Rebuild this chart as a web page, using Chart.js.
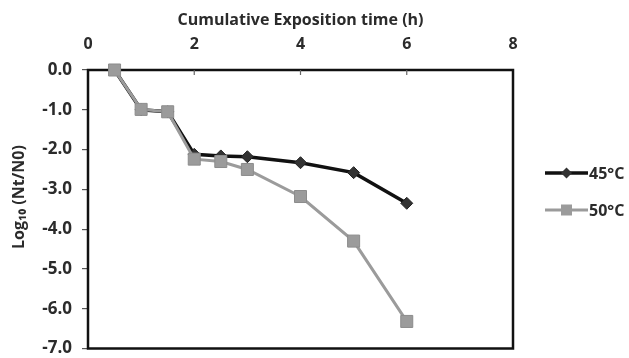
<!DOCTYPE html>
<html>
<head>
<meta charset="utf-8">
<script src="https://cdn.jsdelivr.net/npm/chart.js@4"></script>
<style>
  html, body { margin: 0; padding: 0; background: #fff; }
  #wrap { width: 629px; height: 358px; }
</style>
</head>
<body>
<div id="wrap"><canvas id="killChart" width="629" height="358"></canvas></div>
<script>
// data
const times = [0.5, 1, 1.5, 2, 2.5, 3, 4, 5, 6];
const log45 = [0, -1.0, -1.05, -2.12, -2.16, -2.18, -2.33, -2.58, -3.35];
const log50 = [0, -0.99, -1.05, -2.24, -2.3, -2.5, -3.18, -4.3, -6.32];
const seriesNames = ['45\u00B0C', '50\u00B0C'];
const xTicks = [0, 2, 4, 6, 8];
const yTicks = [0, -1, -2, -3, -4, -5, -6, -7];

const FONT = '"Open Sans", "DejaVu Sans", sans-serif';
const TEXT = '#2b2b2b';

const toPoints = (ys) => times.map((t, i) => ({x: t, y: ys[i]}));

// box around the plot + small inward ticks on the top axis + y title
const frame = {
  id: 'frame',
  beforeDatasetsDraw(chart) {
    const {ctx, chartArea: a, scales} = chart;
    ctx.save();
    ctx.strokeStyle = '#111';
    ctx.lineWidth = 2.5;
    ctx.strokeRect(a.left, a.top, a.right - a.left, a.bottom - a.top);
    ctx.lineWidth = 1.2;
    ctx.strokeStyle = '#666';
    xTicks.slice(1, -1).forEach(v => {
      const px = scales.x.getPixelForValue(v);
      ctx.beginPath();
      ctx.moveTo(px, a.top);
      ctx.lineTo(px, a.top + 5);
      ctx.stroke();
    });
    // y axis title, sits a bit above the middle like in the original
    ctx.translate(19, 197);
    ctx.rotate(-Math.PI / 2);
    ctx.fillStyle = TEXT;
    ctx.font = 'bold 16px ' + FONT;
    ctx.textAlign = 'center';
    ctx.textBaseline = 'middle';
    ctx.fillText('Log\u2081\u2080 (Nt/N0)', 0, 0);
    ctx.restore();
  }
};

// legend: line with the marker in the middle, like the original
const lineLegend = {
  id: 'lineLegend',
  afterDraw(chart) {
    const ctx = chart.ctx;
    const order = [1, 0]; // 45 first, then 50
    ctx.save();
    order.forEach((di, row) => {
      const ds = chart.data.datasets[di];
      const y = 173 + row * 37;
      const x0 = 545, x1 = 588, xm = (x0 + x1) / 2;
      ctx.strokeStyle = ds.borderColor;
      ctx.lineWidth = ds.borderWidth;
      ctx.beginPath();
      ctx.moveTo(x0, y);
      ctx.lineTo(x1, y);
      ctx.stroke();
      ctx.fillStyle = ds.pointBackgroundColor;
      ctx.beginPath();
      if (ds.pointStyle === 'rectRot') {
        const r = 5.5;
        ctx.moveTo(xm, y - r);
        ctx.lineTo(xm + r, y);
        ctx.lineTo(xm, y + r);
        ctx.lineTo(xm - r, y);
        ctx.closePath();
      } else {
        ctx.rect(xm - 5.5, y - 5.5, 11, 11);
      }
      ctx.fill();
      ctx.fillStyle = TEXT;
      ctx.font = 'bold 16px ' + FONT;
      ctx.textBaseline = 'middle';
      ctx.textAlign = 'left';
      ctx.fillText(ds.label, x1 + 1, y + 1);
    });
    ctx.restore();
  }
};

const noEdgePad = (s) => {
  s.paddingTop = 0; s.paddingBottom = 0;
  s.paddingLeft = 0; s.paddingRight = 0;
};

new Chart(document.getElementById('killChart').getContext('2d'), {
  type: 'line',
  data: {
    datasets: [
      {
        label: seriesNames[1],
        data: toPoints(log50),
        borderColor: '#9b9b9b',
        backgroundColor: '#9b9b9b',
        pointBackgroundColor: '#9b9b9b',
        pointBorderColor: '#8c8c8c',
        pointBorderWidth: 1,
        pointStyle: 'rect',
        pointRadius: 8.5,
        borderWidth: 3,
        clip: false
      },
      {
        label: seriesNames[0],
        data: toPoints(log45),
        borderColor: '#111',
        backgroundColor: '#111',
        pointBackgroundColor: '#333',
        pointBorderColor: '#222',
        pointBorderWidth: 1,
        pointStyle: 'rectRot',
        pointRadius: 6,
        borderWidth: 3.5,
        clip: false
      }
    ]
  },
  options: {
    responsive: false,
    animation: false,
    layout: { padding: { left: 0, top: 0, right: 116, bottom: 7 } },
    plugins: {
      legend: { display: false },
      tooltip: { enabled: false }
    },
    scales: {
      x: {
        type: 'linear',
        position: 'top',
        min: 0,
        max: 8,
        afterBuildTicks: (s) => { s.ticks = xTicks.map(v => ({value: v})); },
        afterFit: (s) => { s.height = 70; noEdgePad(s); },
        grid: { display: false },
        border: { display: false },
        ticks: {
          color: TEXT,
          padding: 8,
          font: { family: FONT, size: 16, weight: 'bold' }
        },
        title: {
          display: true,
          text: 'Cumulative Exposition time (h)',
          color: TEXT,
          padding: { top: 11, bottom: 2 },
          font: { family: FONT, size: 16, weight: 'bold' }
        }
      },
      y: {
        min: -7,
        max: 0,
        afterBuildTicks: (s) => { s.ticks = yTicks.map(v => ({value: v})); },
        afterFit: (s) => { s.width = 88; noEdgePad(s); },
        grid: {
          drawOnChartArea: false,
          drawTicks: true,
          tickLength: 6,
          color: '#555',
          lineWidth: 1.2
        },
        border: { display: false },
        ticks: {
          color: TEXT,
          padding: 10,
          callback: (v) => v.toFixed(1),
          font: { family: FONT, size: 17, weight: 'bold' }
        }
      }
    }
  },
  plugins: [frame, lineLegend]
});
</script>
</body>
</html>
